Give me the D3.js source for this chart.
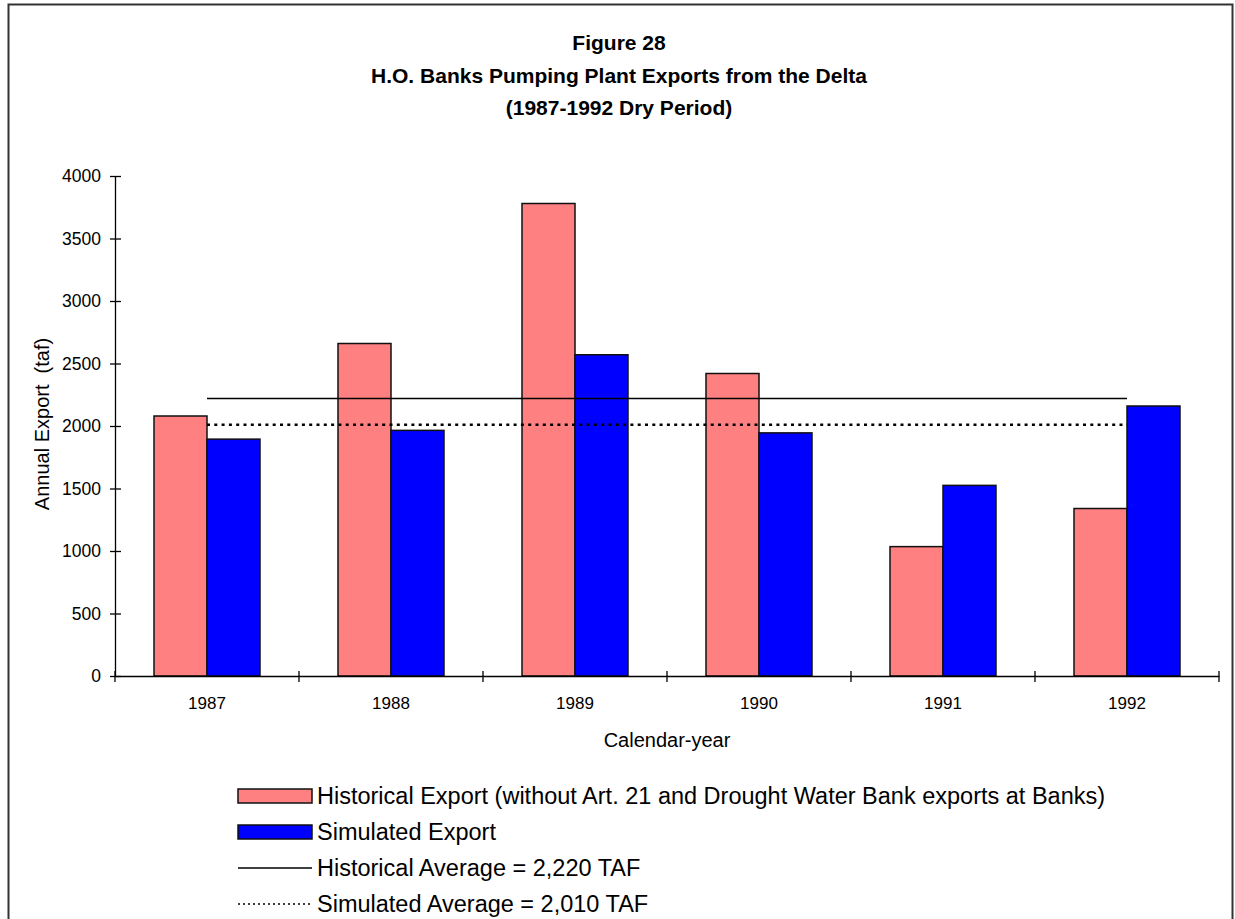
<!DOCTYPE html>
<html>
<head>
<meta charset="utf-8">
<script src="https://cdn.jsdelivr.net/npm/d3@7"></script>
<style>
  body { margin: 0; background: #fff; overflow: hidden; }
  text { font-family: "Liberation Sans", Arial, sans-serif; fill: #000; }
</style>
</head>
<body>
<div id="chart"></div>
<script>
const years = ['1987', '1988', '1989', '1990', '1991', '1992']
const historical = [2080, 2660, 3780, 2420, 1035, 1340]
const simulated = [1895, 1965, 2570, 1945, 1525, 2160]
const historicalAvg = 2220
const simulatedAvg = 2010
const yTicks = [0, 500, 1000, 1500, 2000, 2500, 3000, 3500, 4000]
const titleLines = ['Figure 28', 'H.O. Banks Pumping Plant Exports from the Delta', '(1987-1992 Dry Period)']
const legendLabels = [
  'Historical Export (without Art. 21 and Drought Water Bank exports at Banks)',
  'Simulated Export',
  'Historical Average = 2,220 TAF',
  'Simulated Average = 2,010 TAF'
]

const pink = '#FF8080'
const blue = '#0000FF'
const font = '"Liberation Sans", Arial, sans-serif'

const width = 1235
const height = 919
const margins = { top: 176, right: 16, bottom: 243, left: 115 }

const svg = d3.select('#chart').append('svg')
  .attr('width', width)
  .attr('height', height)

// outer frame
svg.append('rect')
  .attr('x', 8.5).attr('y', 4.5)
  .attr('width', 1224).attr('height', 940)
  .attr('fill', 'none').attr('stroke', '#333').attr('stroke-width', 2)

svg.append('g').selectAll('text')
  .data(titleLines)
  .join('text')
  .attr('x', 619)
  .attr('y', (d, i) => 50 + i * 32.5)
  .attr('text-anchor', 'middle')
  .style('font-weight', 'bold')
  .style('font-size', '21px')
  .text(d => d)

const x0 = d3.scaleBand()
  .domain(years)
  .range([margins.left, width - margins.right])

const x1 = d3.scaleBand()
  .domain(['hist', 'sim'])
  .range([0, x0.bandwidth()])
  .paddingOuter(0.736)

const y = d3.scaleLinear()
  .domain([0, 4000])
  .range([height - margins.bottom, margins.top])

// bars
const groups = svg.append('g').selectAll('g')
  .data(years)
  .join('g')
  .attr('transform', d => `translate(${x0(d)},0)`)

groups.append('rect')
  .attr('x', x1('hist'))
  .attr('y', (d, i) => y(historical[i]))
  .attr('width', x1.bandwidth())
  .attr('height', (d, i) => y(0) - y(historical[i]))
  .attr('fill', pink)
  .attr('stroke', '#111')
  .attr('stroke-width', 1.5)

groups.append('rect')
  .attr('x', x1('sim'))
  .attr('y', (d, i) => y(simulated[i]))
  .attr('width', x1.bandwidth())
  .attr('height', (d, i) => y(0) - y(simulated[i]))
  .attr('fill', blue)
  .attr('stroke', '#111')
  .attr('stroke-width', 1.5)

// average lines, from the first to the last category centre
const xStart = x0(years[0]) + x0.bandwidth() / 2
const xEnd = x0(years[years.length - 1]) + x0.bandwidth() / 2

svg.append('line')
  .attr('x1', xStart).attr('x2', xEnd)
  .attr('y1', y(historicalAvg)).attr('y2', y(historicalAvg))
  .attr('stroke', '#000').attr('stroke-width', 1.5)

svg.append('line')
  .attr('x1', xStart).attr('x2', xEnd)
  .attr('y1', y(simulatedAvg)).attr('y2', y(simulatedAvg))
  .attr('stroke', '#000').attr('stroke-width', 2.5)
  .attr('stroke-dasharray', '3,4.3')

// y axis
const yAxis = svg.append('g')
  .attr('transform', `translate(${margins.left},0)`)
  .call(d3.axisLeft(y).tickValues(yTicks).tickFormat(d3.format('d')).tickSize(5).tickSizeOuter(0))
yAxis.select('.domain').attr('stroke-width', 1.3)
yAxis.selectAll('.tick line').attr('x1', 6).attr('x2', -5).attr('stroke-width', 1.3)
yAxis.selectAll('.tick text')
  .attr('x', -14)
  .style('font-size', '17.5px')
  .style('font-family', font)

// x axis: labels at centres, ticks at category boundaries
const xAxis = svg.append('g')
  .attr('transform', `translate(0,${y(0)})`)
  .call(d3.axisBottom(x0).tickSize(0).tickPadding(21))
xAxis.select('.domain').attr('stroke-width', 1.3)
xAxis.selectAll('.tick text')
  .style('font-size', '17px')
  .style('font-family', font)

const bounds = years.map(d => x0(d)).concat([x0(years[years.length - 1]) + x0.bandwidth()])
xAxis.selectAll('.bound')
  .data(bounds)
  .join('line')
  .attr('class', 'bound')
  .attr('x1', d => d).attr('x2', d => d)
  .attr('y1', -5).attr('y2', 6)
  .attr('stroke', '#000').attr('stroke-width', 1.3)

// axis titles
svg.append('text')
  .attr('transform', `translate(42,424) rotate(-90)`)
  .attr('text-anchor', 'middle')
  .attr('dy', '0.35em')
  .style('font-size', '20px')
  .style('white-space', 'pre')
  .text('Annual Export  (taf)')

svg.append('text')
  .attr('x', (x0.range()[0] + x0.range()[1]) / 2)
  .attr('y', 740)
  .attr('text-anchor', 'middle')
  .attr('dy', '0.35em')
  .style('font-size', '20px')
  .text('Calendar-year')

// legend
const legend = svg.append('g')
  .attr('transform', 'translate(238,796)')
const rowGap = 36

legendLabels.forEach((label, i) => {
  const row = legend.append('g').attr('transform', `translate(0,${i * rowGap})`)
  if (i < 2) {
    row.append('rect')
      .attr('x', 0).attr('y', -7)
      .attr('width', 74).attr('height', 14)
      .attr('fill', i === 0 ? pink : blue)
      .attr('stroke', '#111').attr('stroke-width', 1.5)
  } else {
    row.append('line')
      .attr('x1', 0).attr('x2', 74)
      .attr('y1', 0).attr('y2', 0)
      .attr('stroke', '#000')
      .attr('stroke-width', i === 2 ? 1.3 : 1.5)
      .attr('stroke-dasharray', i === 2 ? null : '2,3')
  }
  row.append('text')
    .attr('x', 79)
    .attr('dy', '0.36em')
    .style('font-size', '23.5px')
    .text(label)
})
</script>
</body>
</html>
